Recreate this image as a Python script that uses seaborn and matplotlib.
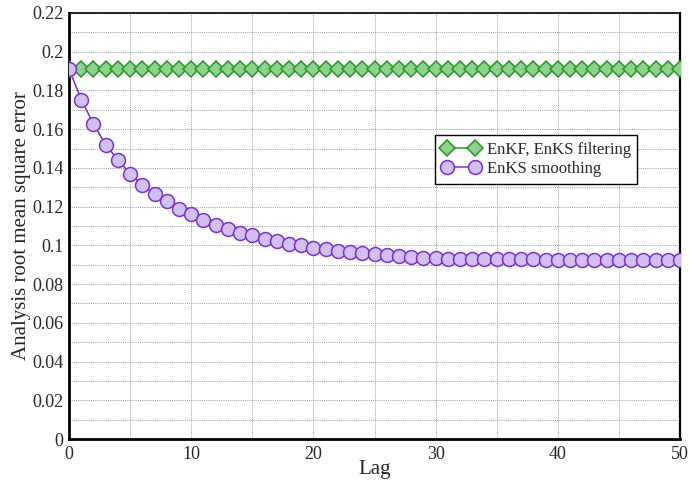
import numpy as np
import pandas as pd
import matplotlib
matplotlib.use("Agg")
import matplotlib.pyplot as plt
from matplotlib.ticker import MultipleLocator, FuncFormatter
import seaborn as sns

lags = list(range(0, 51))
filtering = [0.1912] * 51
smoothing = [0.1912, 0.1753, 0.1627, 0.1520, 0.1442, 0.1370, 0.1313, 0.1264, 0.1229, 0.1188,
             0.1161, 0.1130, 0.1104, 0.1084, 0.1066, 0.1051, 0.1035, 0.1022, 0.1009, 0.1000,
             0.0988, 0.0979, 0.0973, 0.0966, 0.0959, 0.0955, 0.0949, 0.0944, 0.0940, 0.0936,
             0.0933, 0.0931, 0.0930, 0.0929, 0.0929, 0.0928, 0.0928, 0.0927, 0.0927, 0.0926,
             0.0926, 0.0926, 0.0925, 0.0925, 0.0925, 0.0925, 0.0924, 0.0924, 0.0924, 0.0924,
             0.0924]
series_names = ["EnKF, EnKS filtering", "EnKS smoothing"]

sns.set_style("white")
plt.rcParams["font.family"] = ["Liberation Serif", "DejaVu Serif"]
plt.rcParams["mathtext.fontset"] = "stix"

df = pd.DataFrame({
    "Lag": lags * 2,
    "RMSE": filtering + smoothing,
    "series": [series_names[0]] * len(lags) + [series_names[1]] * len(lags),
})

fig = plt.figure(figsize=(6.89, 4.82), dpi=100)
ax = fig.add_axes([69 / 689, 1 - 439 / 482, (680 - 69) / 689, (439 - 13) / 482])

green = "#1f9a1f"
purple = "#7b2fcf"

sns.lineplot(data=df[df.series == series_names[0]], x="Lag", y="RMSE", ax=ax,
             color=green, lw=1.1, marker="D", markersize=8.5,
             markerfacecolor="#8fd28f", markeredgecolor=green, markeredgewidth=1.1,
             label=series_names[0], zorder=3)
sns.lineplot(data=df[df.series == series_names[1]], x="Lag", y="RMSE", ax=ax,
             color=purple, lw=1.1, marker="o", markersize=10,
             markerfacecolor="#d3c0f0", markeredgecolor=purple, markeredgewidth=1.1,
             label=series_names[1], zorder=4)

ax.set_xlim(0, 50)
ax.set_ylim(0, 0.22)
ax.xaxis.set_major_locator(MultipleLocator(10))
ax.xaxis.set_minor_locator(MultipleLocator(5))
ax.yaxis.set_major_locator(MultipleLocator(0.02))
ax.yaxis.set_minor_locator(MultipleLocator(0.01))
ax.yaxis.set_major_formatter(FuncFormatter(lambda v, p: "%g" % round(v, 4)))
ax.xaxis.set_major_formatter(FuncFormatter(lambda v, p: "%g" % v))
ax.grid(True, which="both", linestyle=(0, (1, 1.2)), color="#9a9a9a", lw=0.7)
ax.tick_params(which="both", direction="in", labelsize=13, length=3, color="black")
ax.tick_params(axis="x", pad=5)
ax.tick_params(axis="y", pad=4)
for s in ax.spines.values():
    s.set_color("black")
    s.set_linewidth(1.2)
ax.spines["left"].set_linewidth(2)
ax.spines["bottom"].set_linewidth(2)
ax.spines["right"].set_linewidth(1.6)

ax.set_xlabel("Lag", fontsize=15, labelpad=-2)
ax.set_ylabel("Analysis root mean square error", fontsize=15, labelpad=1)

leg = ax.legend(loc="upper left", bbox_to_anchor=(0.599, 0.7136), fontsize=12,
                fancybox=False, framealpha=1, edgecolor="black", numpoints=2,
                handlelength=2.3, borderpad=0.4, labelspacing=0.2, handletextpad=0.4,
                borderaxespad=0)
leg.get_frame().set_linewidth(1.0)

fig.savefig("out.png", dpi=100)
